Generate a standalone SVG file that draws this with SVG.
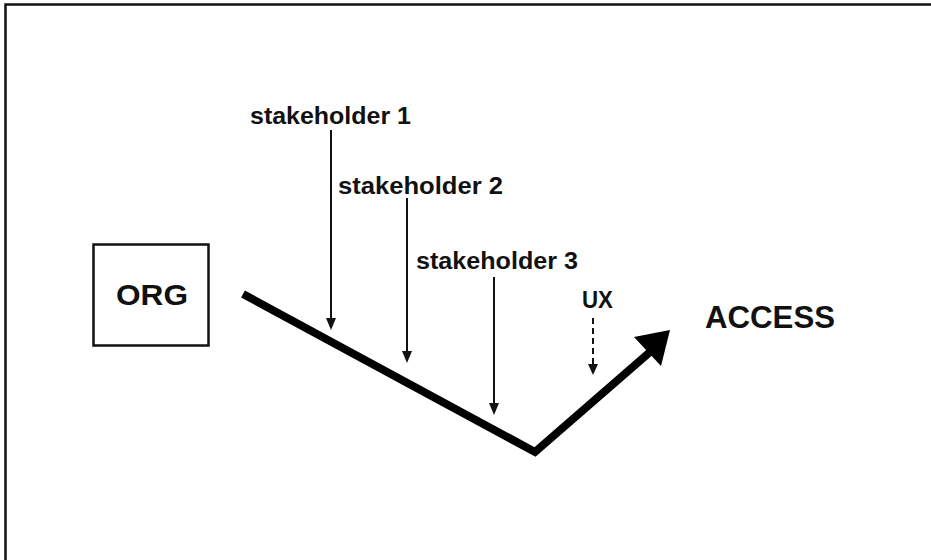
<svg xmlns="http://www.w3.org/2000/svg" width="931" height="560" viewBox="0 0 931 560">
<defs>
<style>
.t{font-family:"Liberation Sans",Arial,sans-serif;font-weight:bold;fill:#111}
.thin{stroke:#111;stroke-width:2;fill:none}
</style>
</defs>
<rect width="931" height="560" fill="#fff"/>
<path d="M940,4.5 L5.5,4.5 L5.5,570" fill="none" stroke="#111" stroke-width="2.5"/>
<g id="org">
<rect x="93.5" y="244.5" width="115" height="101" fill="none" stroke="#111" stroke-width="2.5"/>
<text class="t" x="152" y="305" font-size="30" text-anchor="middle" textLength="72" lengthAdjust="spacingAndGlyphs">ORG</text>
</g>
<g id="access">
<text class="t" x="705" y="328" font-size="31" textLength="130" lengthAdjust="spacingAndGlyphs">ACCESS</text>
</g>
<g id="stakeholder1">
<text class="t" x="250" y="124" font-size="23" textLength="161" lengthAdjust="spacingAndGlyphs">stakeholder 1</text>
</g>
<g id="stakeholder2">
<text class="t" x="338" y="194" font-size="23" textLength="165" lengthAdjust="spacingAndGlyphs">stakeholder 2</text>
</g>
<g id="stakeholder3">
<text class="t" x="416" y="269" font-size="23" textLength="162" lengthAdjust="spacingAndGlyphs">stakeholder 3</text>
</g>
<g id="ux">
<text class="t" x="582" y="308" font-size="23" textLength="31" lengthAdjust="spacingAndGlyphs">UX</text>
</g>
<g id="connectors">
<path d="M243,294 L535,452 L650,352" fill="none" stroke="#000" stroke-width="8" stroke-linejoin="miter" stroke-linecap="butt"/>
<polygon points="670,330 634,337 661,366" fill="#000"/>
<line class="thin" x1="331" y1="130" x2="331" y2="322"/>
<path d="M326,318 L336,318 L331,330 Z" fill="#111"/>
<line class="thin" x1="407" y1="198" x2="407" y2="355"/>
<path d="M402,351 L412,351 L407,363 Z" fill="#111"/>
<line class="thin" x1="494" y1="277" x2="494" y2="407"/>
<path d="M489,403 L499,403 L494,415 Z" fill="#111"/>
<line class="thin" x1="593" y1="318" x2="593" y2="368" stroke-width="2.5" stroke-dasharray="6,4"/>
<path d="M588,364 L598,364 L593,375 Z" fill="#111"/>
</g>
</svg>
